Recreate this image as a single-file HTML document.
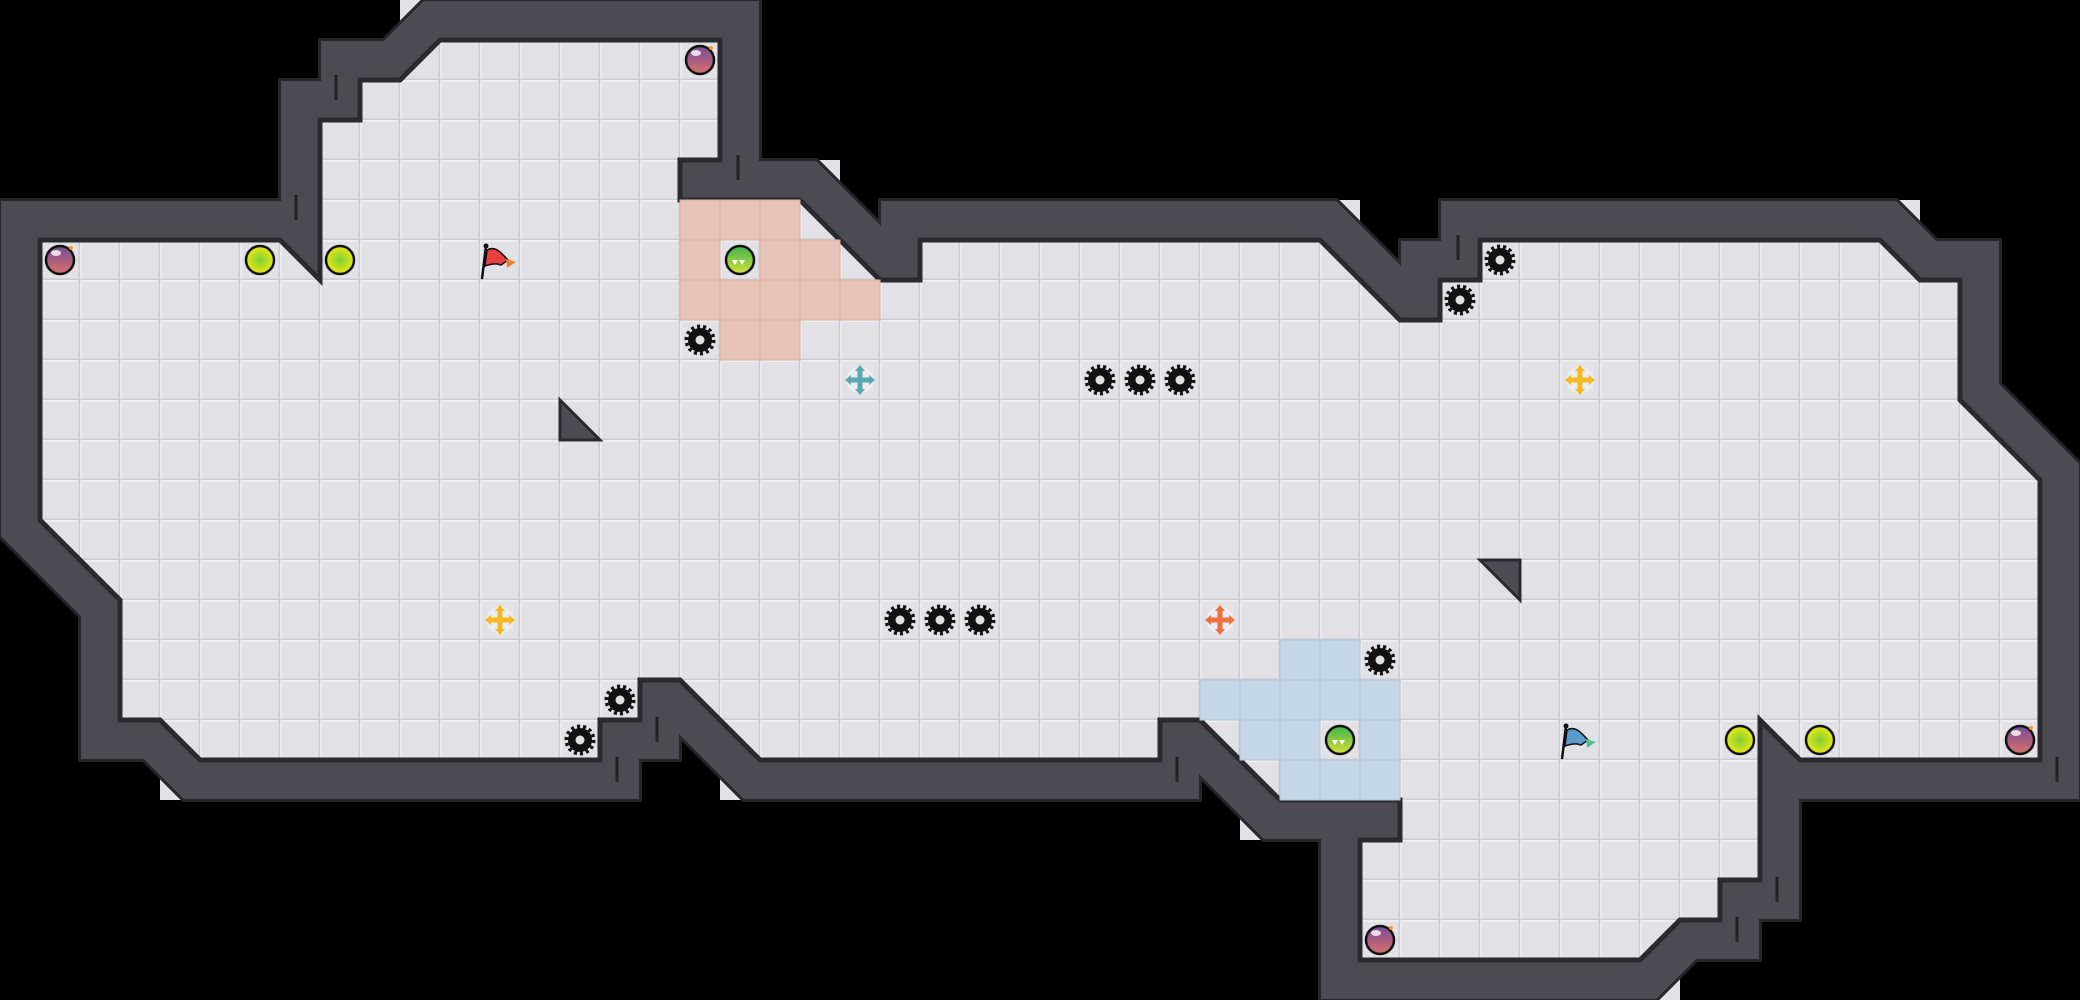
<!DOCTYPE html>
<html><head><meta charset="utf-8"><style>html,body{margin:0;padding:0;background:#000;width:2080px;height:1000px;overflow:hidden}</style></head>
<body>
<svg width="2080" height="1000" viewBox="0 0 2080 1000" xmlns="http://www.w3.org/2000/svg">
<defs>
<pattern id="tile" width="40" height="40" patternUnits="userSpaceOnUse">
<rect width="40" height="40" fill="#e2e2e6"/>
<rect x="0" y="0" width="40" height="2" fill="#eeeef1"/>
<rect x="0" y="0" width="2" height="40" fill="#eaeaee"/>
<rect x="38.5" y="0" width="1.5" height="40" fill="#cbcbd1"/>
<rect x="0" y="38.5" width="40" height="1.5" fill="#cbcbd1"/>
</pattern>
<g id="gear">
<circle r="13" fill="none" stroke="#111" stroke-width="5" stroke-dasharray="2.9 2.9"/>
<circle r="12" fill="#111"/>
<circle r="4.5" fill="#e2e2e6"/>
</g>
<radialGradient id="gy" cx="50%" cy="50%" r="50%"><stop offset="0" stop-color="#7fcf3a"/><stop offset="1" stop-color="#e8ea10"/></radialGradient>
<linearGradient id="gp" x1="0" y1="0" x2="0" y2="1"><stop offset="0" stop-color="#7a4a9a"/><stop offset="1" stop-color="#d8706a"/></linearGradient>
<linearGradient id="gg" x1="0" y1="0" x2="0" y2="1"><stop offset="0" stop-color="#3fb34a"/><stop offset="1" stop-color="#d6e13a"/></linearGradient>
<g id="yb"><circle r="14" fill="url(#gy)" stroke="#111" stroke-width="2.5"/></g>
<g id="pb"><circle r="14" fill="url(#gp)" stroke="#111" stroke-width="2.5"/><ellipse cx="-4" cy="-7" rx="5" ry="3" fill="#fff" opacity="0.8"/><circle cx="11" cy="-12" r="2" fill="#f0a020"/></g>
<g id="gb"><circle r="14" fill="url(#gg)" stroke="#111" stroke-width="2.5"/><path d="M-8 0 l3 5 l3 -5 M-1 0 l3 5 l3 -5" fill="#fff"/></g>
<g id="cross"><circle r="14" fill="#ececf0"/><path d="M-2.5 -9 h5 v6.5 h6.5 v5 h-6.5 v6.5 h-5 v-6.5 h-6.5 v-5 h6.5z"/><path d="M0 -15 l5 6 h-10z M0 15 l5 -6 h-10z M-15 0 l6 5 v-10z M15 0 l-6 5 v-10z"/></g>
</defs>
<rect width="2080" height="1000" fill="#000"/>
<g fill="#e2e2e6">
<polygon points="400,0 440,0 400,40"/>
<polygon points="800,160 840,160 840,200"/>
<polygon points="1320,200 1360,200 1360,240"/>
<polygon points="1880,200 1920,200 1920,240"/>
<polygon points="160,760 160,800 200,800"/>
<polygon points="720,760 720,800 760,800"/>
<polygon points="1240,800 1240,840 1280,840"/>
<polygon points="1680,960 1680,1000 1640,1000"/>
</g>
<polygon points="40,240 280,240 320,280 320,120 360,120 360,80 400,80 440,40 720,40 720,160 680,160 680,200 800,200 880,280 920,280 920,240 1320,240 1400,320 1440,320 1440,280 1480,280 1480,240 1880,240 1920,280 1960,280 1960,400 2040,480 2040,760 1800,760 1760,720 1760,880 1720,880 1720,920 1680,920 1640,960 1360,960 1360,840 1400,840 1400,800 1280,800 1200,720 1160,720 1160,760 760,760 680,680 640,680 640,720 600,720 600,760 200,760 160,720 120,720 120,600 40,520" fill="none" stroke="#26262a" stroke-width="84" stroke-linejoin="miter" stroke-miterlimit="10"/>
<polygon points="40,240 280,240 320,280 320,120 360,120 360,80 400,80 440,40 720,40 720,160 680,160 680,200 800,200 880,280 920,280 920,240 1320,240 1400,320 1440,320 1440,280 1480,280 1480,240 1880,240 1920,280 1960,280 1960,400 2040,480 2040,760 1800,760 1760,720 1760,880 1720,880 1720,920 1680,920 1640,960 1360,960 1360,840 1400,840 1400,800 1280,800 1200,720 1160,720 1160,760 760,760 680,680 640,680 640,720 600,720 600,760 200,760 160,720 120,720 120,600 40,520" fill="none" stroke="#4b4b51" stroke-width="78" stroke-linejoin="miter" stroke-miterlimit="10"/>
<polygon points="40,240 280,240 320,280 320,120 360,120 360,80 400,80 440,40 720,40 720,160 680,160 680,200 800,200 880,280 920,280 920,240 1320,240 1400,320 1440,320 1440,280 1480,280 1480,240 1880,240 1920,280 1960,280 1960,400 2040,480 2040,760 1800,760 1760,720 1760,880 1720,880 1720,920 1680,920 1640,960 1360,960 1360,840 1400,840 1400,800 1280,800 1200,720 1160,720 1160,760 760,760 680,680 640,680 640,720 600,720 600,760 200,760 160,720 120,720 120,600 40,520" fill="url(#tile)" stroke="#2a2a2e" stroke-width="5" stroke-linejoin="miter"/>
<g fill="#e8c4b6" stroke="#dcb3a5" stroke-width="1">
<rect x="680" y="200" width="40" height="40"/><rect x="720" y="200" width="40" height="40"/><rect x="760" y="200" width="40" height="40"/>
<rect x="680" y="240" width="40" height="40"/><rect x="760" y="240" width="40" height="40"/><rect x="800" y="240" width="40" height="40"/>
<rect x="680" y="280" width="40" height="40"/><rect x="720" y="280" width="40" height="40"/><rect x="760" y="280" width="40" height="40"/><rect x="800" y="280" width="40" height="40"/><rect x="840" y="280" width="40" height="40"/>
<rect x="720" y="320" width="40" height="40"/><rect x="760" y="320" width="40" height="40"/>
</g>
<g fill="#c4d7e6" stroke="#b3c7d8" stroke-width="1">
<rect x="1280" y="640" width="40" height="40"/><rect x="1320" y="640" width="40" height="40"/>
<rect x="1200" y="680" width="40" height="40"/><rect x="1240" y="680" width="40" height="40"/><rect x="1280" y="680" width="40" height="40"/><rect x="1320" y="680" width="40" height="40"/><rect x="1360" y="680" width="40" height="40"/>
<rect x="1240" y="720" width="40" height="40"/><rect x="1280" y="720" width="40" height="40"/><rect x="1360" y="720" width="40" height="40"/>
<rect x="1280" y="760" width="40" height="40"/><rect x="1320" y="760" width="40" height="40"/><rect x="1360" y="760" width="40" height="40"/>
</g>
<polygon points="560,400 560,440 600,440" fill="#4b4b51" stroke="#2a2a2e" stroke-width="3"/>
<polygon points="1480,560 1520,560 1520,600" fill="#4b4b51" stroke="#2a2a2e" stroke-width="3"/>
<g stroke="#222" stroke-width="3">
<line x1="336" y1="75" x2="336" y2="100"/><line x1="296" y1="195" x2="296" y2="220"/><line x1="738" y1="155" x2="738" y2="180"/><line x1="1458" y1="235" x2="1458" y2="260"/><line x1="657" y1="717" x2="657" y2="742"/><line x1="617" y1="757" x2="617" y2="782"/><line x1="1177" y1="757" x2="1177" y2="782"/><line x1="2057" y1="757" x2="2057" y2="782"/><line x1="1777" y1="877" x2="1777" y2="902"/><line x1="1737" y1="917" x2="1737" y2="942"/></g>
<use href="#pb" x="60" y="260"/><use href="#pb" x="700" y="60"/><use href="#pb" x="2020" y="740"/><use href="#pb" x="1380" y="940"/>
<use href="#yb" x="260" y="260"/><use href="#yb" x="340" y="260"/><use href="#yb" x="1740" y="740"/><use href="#yb" x="1820" y="740"/>
<use href="#gb" x="740" y="260"/><use href="#gb" x="1340" y="740"/>
<use href="#gear" x="700" y="340"/><use href="#gear" x="1100" y="380"/><use href="#gear" x="1140" y="380"/><use href="#gear" x="1180" y="380"/>
<use href="#gear" x="1500" y="260"/><use href="#gear" x="1460" y="300"/><use href="#gear" x="900" y="620"/><use href="#gear" x="940" y="620"/><use href="#gear" x="980" y="620"/>
<use href="#gear" x="1380" y="660"/><use href="#gear" x="620" y="700"/><use href="#gear" x="580" y="740"/>
<use href="#cross" x="860" y="380" fill="#5aa8b0"/><use href="#cross" x="1580" y="380" fill="#f5b820"/><use href="#cross" x="500" y="620" fill="#f5b820"/><use href="#cross" x="1220" y="620" fill="#f07040"/>
<g transform="translate(482,242)"><line x1="4" y1="4" x2="0" y2="37" stroke="#111" stroke-width="2.5"/><circle cx="4" cy="4" r="2.5" fill="#111"/><path d="M5 8 C14 3 20 12 26 18 L19 23 C14 21 9 22 3 24z" fill="#e84040" stroke="#111" stroke-width="1.5"/><path d="M24 17 L34 20 L25 26z" fill="#f08030"/></g>
<g transform="translate(1562,722)"><line x1="4" y1="4" x2="0" y2="37" stroke="#111" stroke-width="2.5"/><circle cx="4" cy="4" r="2.5" fill="#111"/><path d="M5 8 C14 3 20 12 26 18 L19 23 C14 21 9 22 3 24z" fill="#5a9ccc" stroke="#111" stroke-width="1.5"/><path d="M24 17 L34 20 L25 26z" fill="#5abf90"/></g>
</svg>
</body></html>
